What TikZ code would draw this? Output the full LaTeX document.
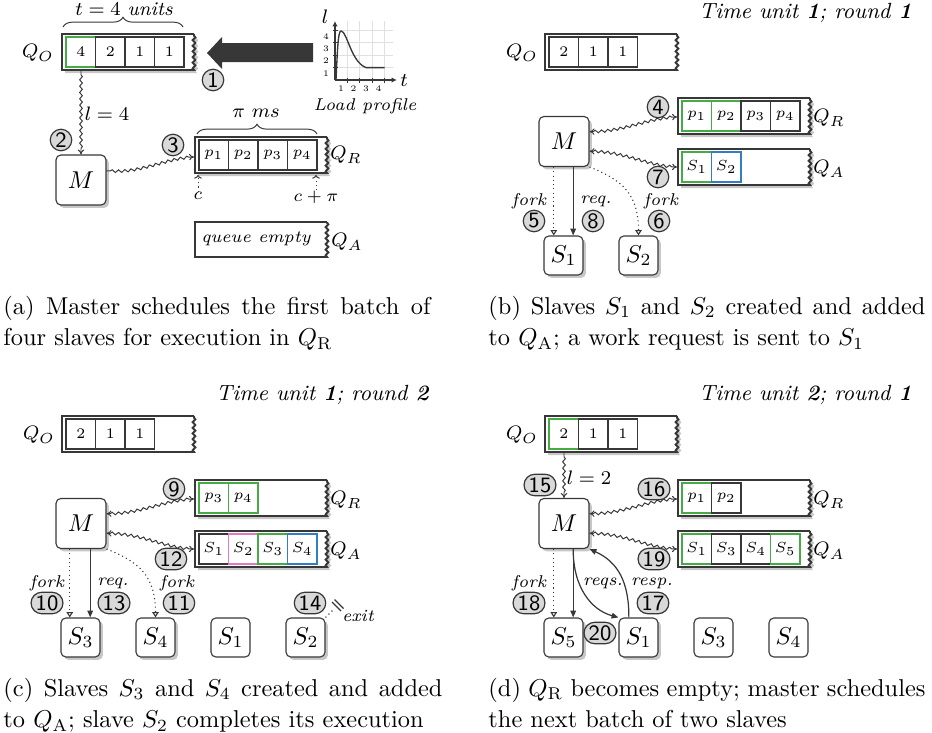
\documentclass[tikz,border=0pt]{standalone}
\usetikzlibrary{decorations.pathmorphing,decorations.pathreplacing,arrows.meta,shapes.misc,calc,shadows}
\definecolor{dk}{RGB}{55,55,55}
\definecolor{qg}{RGB}{70,170,70}
\definecolor{qb}{RGB}{50,125,195}
\definecolor{qp}{RGB}{225,120,195}
\newdimen\pxu
\pxu=0.41pt
\tikzset{
  qsn/.style={decoration={snake,amplitude=0.55pt,segment length=2.3pt}},
  wavy/.style={draw=dk,line width=0.4pt,>={To[length=2pt,width=2.6pt]},decorate,decoration={snake,amplitude=0.55pt,segment length=2.6pt,pre length=1.5pt,post length=1.5pt}},
  proc/.style={draw=dk,fill=white,line width=0.45pt,rounded corners=2pt,minimum size=20.5pt,inner sep=0pt},
  slave/.style={proc,minimum size=16pt},
  shad/.style={drop shadow={shadow xshift=1.2pt,shadow yshift=-1.2pt,fill=black!22,opacity=1}},
  cn/.style={circle,draw=dk,fill=black!15,line width=0.5pt,inner sep=0pt,minimum size=8.8pt,font=\small\sffamily},
  cn2/.style={rounded rectangle,draw=dk,fill=black!15,line width=0.5pt,inner sep=0.6pt,minimum height=8.8pt,minimum width=12.5pt,font=\small\sffamily},
  lb/.style={font=\scriptsize\itshape,inner sep=0pt},
  ql/.style={font=\footnotesize,inner sep=0pt},
  forkline/.style={draw=dk,line width=0.45pt,dash pattern=on 0.45pt off 1.3pt,-{Triangle[open,length=2.2pt,width=2.7pt]}},
  reqline/.style={draw=dk,line width=0.5pt,-{Triangle[length=2.8pt,width=2.3pt]}},
  ttl/.style={font=\small\itshape,anchor=base east,inner sep=0pt},
  captxt/.style={anchor=base west,inner sep=0pt,font=\normalsize},
  brc/.style={draw=dk,line width=0.4pt,decorate,decoration={brace,amplitude=4pt}},
  grd/.style={draw=black!12,line width=0.3pt},
}
\newcommand\qbox[4]{\filldraw[fill=white,draw=dk,line width=0.8pt] (#3,#2) -- (#1,#2) -- (#1,#4) -- (#3,#4) decorate[qsn]{-- (#3,#2)};}
\newcommand\qshad[4]{\fill[black!22,shift={(3,3)}] (#3,#2) -- (#1,#2) -- (#1,#4) -- (#3,#4) decorate[qsn]{-- (#3,#2)} -- cycle;}
\newcommand\qcell[4][dk]{\draw[draw=#1,line width=0.45pt] (#2,#3) rectangle ++(29.5,30); \node[font=\fontsize{6}{7}\selectfont,inner sep=0pt] at (#2+14.75,#3+15) {#4};}
\begin{document}
\begin{tikzpicture}[x=0.41pt,y=-0.41pt]
\useasboundingbox (0,0) rectangle (932,733);

% ================= (a)
\node[font=\footnotesize,inner sep=0pt] (ta) at (124,9) {$t=4$\ \textit{units}};
\draw[brc] (63,27) -- (183,27);
\qshad{62}{34}{194}{70}
\qbox{62}{34}{194}{70}
\qcell[qg]{66}{37}{4}\qcell{95.5}{37}{2}\qcell{125}{37}{1}\qcell{154.5}{37}{1}
\node[ql] (QOa) at (38,53) {$Q_O$};
\fill[dk] (313,43) -- (222,43) -- (222,37) -- (207,53) -- (222,69) -- (222,62) -- (313,62) -- cycle;
\node[cn] (c1) at (213,80) {1};
% load profile
\foreach \g in {347.4,359.8,372.2,384.6} \draw[grd] (\g,21) -- (\g,80);
\foreach \g in {67.6,55.2,42.8,30.4} \draw[grd] (335,\g) -- (393,\g);
\draw[dk,line width=0.6pt,-{Latex[length=2.2pt,width=2.2pt]}] (335,80) -- (335,21);
\draw[dk,line width=0.6pt,-{Latex[length=2.2pt,width=2.2pt]}] (335,80) -- (397,80);
\foreach \g in {347.4,359.8,372.2,384.6} \draw[dk,line width=0.5pt] (\g,77.5) -- (\g,82.5);
\foreach \g in {67.6,55.2,42.8,30.4} \draw[dk,line width=0.5pt] (332.5,\g) -- (337.5,\g);
\foreach \g/\t in {341/1,353.5/2,366/3,378.5/4} \node[font=\fontsize{3.5}{4}\selectfont,inner sep=0pt,name=xl\t] at (\g,89) {\t};
\foreach \g/\t in {73.5/1,61/2,48.5/3,36.5/4} \node[font=\fontsize{3.5}{4}\selectfont,inner sep=0pt,name=yl\t] at (326,\g) {\t};
\draw[dk,line width=0.55pt] (336,80) .. controls (337.5,50) and (338,31) .. (341,31) .. controls (347,31) and (351,62) .. (366,67.6) -- (384.6,67.6);
\node[ql] (la) at (325,17) {$l$};
\node[ql] (tla) at (404,80) {$t$};
\node[lb] (lp) at (365,106) {Load profile};
% master
\node[proc,shad] (Ma) at (81,180) {$M$};
\coordinate (qoa) at (81,71);
\draw[wavy,->] (qoa) -- (Ma.north);
\node[ql] (l4) at (107,114) {$l=4$};
\node[cn] (c2) at (61,140) {2};
\coordinate (qra) at (194,157);
\draw[wavy,->] (Ma.20) .. controls (140,174) and (165,157) .. (qra);
\node[cn] (c3) at (173,145) {3};
\node[ql] (pims) at (256,113) {$\pi\ ms$};
\draw[brc] (197,134) -- (317,134);
\qshad{195}{137}{327}{173}
\qbox{195}{137}{327}{173}
\qcell{199}{140}{$p_1$}\qcell{228.5}{140}{$p_2$}\qcell{258}{140}{$p_3$}\qcell{287.5}{140}{$p_4$}
\node[ql] (QRa) at (346,155) {$Q_R$};
\node[font=\scriptsize,inner sep=0pt] (ca) at (198,196) {$c$};
\coordinate (cta) at (198,175);
\draw[dk,line width=0.4pt,dash pattern=on 0.45pt off 1.3pt,-{To[length=1.5pt]}] (ca.north) -- (cta);
\node[font=\scriptsize,inner sep=0pt] (cpa) at (316,197) {$c+\pi$};
\coordinate (cpta) at (316,175);
\draw[dk,line width=0.4pt,dash pattern=on 0.45pt off 1.3pt,-{To[length=1.5pt]}] (cpa.north) -- (cpta);
\qbox{195}{222}{327}{257}
\node[font=\scriptsize\itshape,inner sep=0pt] (qe) at (256,239) {queue empty};
\node[ql] (QAa) at (347,242) {$Q_A$};
\node[captxt] (cpa1) at (3,314) {\makebox[427\pxu][s]{(a) Master schedules the first batch of}};
\node[captxt] (cpa2) at (3,345.5) {four slaves for execution in $Q_{\mathrm{R}}$};

% ================= (b)
\begin{scope}[shift={(483,0)}]
\node[ttl] (tb) at (429,18) {Time unit \textbf{1}; round \textbf{1}};
\qbox{62}{34}{194}{70}
\qcell{66}{37}{2}\qcell{95.5}{37}{1}\qcell{125}{37}{1}
\node[ql] (QOb) at (39,53) {$Q_O$};
\qshad{195}{98}{327}{134}\qbox{195}{98}{327}{134}
\qcell[qg]{199}{101}{$p_1$}\qcell[qg]{228.5}{101}{$p_2$}\qcell{258}{101}{$p_3$}\qcell{287.5}{101}{$p_4$}
\node[ql] (QRb) at (346,118) {$Q_R$};
\qshad{195}{149}{327}{185}\qbox{195}{149}{327}{185}
\qcell[qg]{199}{152}{$S_1$}\qcell[qb]{228.5}{152}{$S_2$}
\node[ql] (QAb) at (346,169) {$Q_A$};
\node[proc,shad] (Mb) at (81,141.5) {$M$};
\coordinate (qrb) at (194,117);
\coordinate (qab) at (194,167);
\draw[wavy,<->] (Mb.21) .. controls (140,132) and (165,117) .. (qrb);
\draw[wavy,<->] (Mb.-21) .. controls (140,151) and (165,167) .. (qab);
\node[cn] (c4) at (175,107) {4};
\node[cn] (c7) at (175,177) {7};
\node[slave,shad] (S1b) at (80.5,255.5) {$S_1$};
\node[slave,shad] (S2b) at (155.5,255.5) {$S_2$};
\draw[forkline] ($(Mb.south west)!0.3!(Mb.south east)$) coordinate (fb) -- (fb |- S1b.north);
\draw[reqline] ($(Mb.south west)!0.68!(Mb.south east)$) coordinate (rb) -- (rb |- S1b.north);
\draw[forkline] (Mb.south east) .. controls (140,180) and (155.5,195) .. (S2b.north);
\node[lb] (fk5) at (46,201) {fork};
\node[lb] (rq8) at (113,201) {req.};
\node[lb] (fk6) at (178,201) {fork};
\node[cn] (c5) at (51,221) {5};
\node[cn] (c8) at (110,221) {8};
\node[cn] (c6) at (176,221) {6};
\node[captxt] (cpb1) at (5,314) {\makebox[437\pxu][s]{(b) Slaves $S_1$ and $S_2$ created and added}};
\node[captxt] (cpb2) at (5,345.5) {to $Q_{\mathrm{A}}$; a work request is sent to $S_1$};
\end{scope}

% ================= (c)
\begin{scope}[shift={(0,382)}]
\node[ttl] (tc) at (429,18) {Time unit \textbf{1}; round \textbf{2}};
\qbox{62}{34}{194}{70}
\qcell{66}{37}{2}\qcell{95.5}{37}{1}\qcell{125}{37}{1}
\node[ql] (QOc) at (39,53) {$Q_O$};
\qshad{195}{98}{327}{134}\qbox{195}{98}{327}{134}
\qcell[qg]{199}{101}{$p_3$}\qcell[qg]{228.5}{101}{$p_4$}
\node[ql] (QRc) at (346,118) {$Q_R$};
\qshad{195}{149}{327}{185}\qbox{195}{149}{327}{185}
\qcell{199}{152}{$S_1$}\qcell[qp]{228.5}{152}{$S_2$}\qcell[qg]{258}{152}{$S_3$}\qcell[qb]{287.5}{152}{$S_4$}
\node[ql] (QAc) at (346,169) {$Q_A$};
\node[proc,shad] (Mc) at (81,141.5) {$M$};
\coordinate (qrc) at (194,117);
\coordinate (qac) at (194,167);
\draw[wavy,<->] (Mc.21) .. controls (140,132) and (165,117) .. (qrc);
\draw[wavy,<->] (Mc.-21) .. controls (140,151) and (165,167) .. (qac);
\node[cn] (c9) at (174,107) {9};
\node[cn2] (c12) at (171,177) {12};
\node[slave,shad] (S3c) at (80.5,255.5) {$S_3$};
\node[slave,shad] (S4c) at (155.5,255.5) {$S_4$};
\node[slave] (S1c) at (230.5,255.5) {$S_1$};
\node[slave,shad] (S2c) at (305.5,255.5) {$S_2$};
\draw[forkline] ($(Mc.south west)!0.28!(Mc.south east)$) coordinate (fc) -- (fc |- S3c.north);
\draw[reqline] ($(Mc.south west)!0.68!(Mc.south east)$) coordinate (rc) -- (rc |- S3c.north);
\draw[forkline] (Mc.south east) .. controls (140,180) and (155.5,195) .. (S4c.north);
\draw[dk,line width=0.45pt,dash pattern=on 0.45pt off 1.3pt] (S2c.north east) -- ++(7,-7) coordinate (exc);
\draw[dk,line width=0.45pt] (332,220) -- (341,229);
\draw[dk,line width=0.45pt] (334.5,217.5) -- (343.5,226.5);
\node[lb] (exit) at (358,234) {exit};
\node[lb] (fk10) at (47,201) {fork};
\node[lb] (rq13) at (113,201) {req.};
\node[lb] (fk11) at (177,201) {fork};
\node[cn2] (c10) at (47,221) {10};
\node[cn2] (c13) at (114,221) {13};
\node[cn2] (c11) at (179,221) {11};
\node[cn2] (c14) at (310,221) {14};
\node[captxt] (cpc1) at (3,314) {\makebox[439\pxu][s]{(c) Slaves $S_3$ and $S_4$ created and added}};
\node[captxt] (cpc2) at (3,345.5) {to $Q_{\mathrm{A}}$; slave $S_2$ completes its execution};
\end{scope}

% ================= (d)
\begin{scope}[shift={(483,382)}]
\node[ttl] (td) at (429,18) {Time unit \textbf{2}; round \textbf{1}};
\qshad{62}{34}{194}{70}
\qbox{62}{34}{194}{70}
\qcell[qg]{66}{37}{2}\qcell{95.5}{37}{1}\qcell{125}{37}{1}
\node[ql] (QOd) at (39,53) {$Q_O$};
\qshad{195}{98}{327}{134}\qbox{195}{98}{327}{134}
\qcell[qg]{199}{101}{$p_1$}\qcell{228.5}{101}{$p_2$}
\node[ql] (QRd) at (346,118) {$Q_R$};
\qshad{195}{149}{327}{185}\qbox{195}{149}{327}{185}
\qcell[qg]{199}{152}{$S_1$}\qcell{228.5}{152}{$S_3$}\qcell{258}{152}{$S_4$}\qcell[qg]{287.5}{152}{$S_5$}
\node[ql] (QAd) at (346,169) {$Q_A$};
\node[proc,shad] (Md) at (81,141.5) {$M$};
\coordinate (qod) at (81,71);
\draw[wavy,->] (qod) -- (Md.north);
\node[ql] (l2) at (106,96) {$l=2$};
\node[cn2] (c15) at (57,103) {15};
\coordinate (qrd) at (194,117);
\coordinate (qad) at (194,167);
\draw[wavy,<->] (Md.21) .. controls (140,132) and (165,117) .. (qrd);
\draw[wavy,<->] (Md.-21) .. controls (140,151) and (165,167) .. (qad);
\node[cn2] (c16) at (171,107) {16};
\node[cn2] (c19) at (171,177) {19};
\node[slave,shad] (S5d) at (80.5,255.5) {$S_5$};
\node[slave,shad] (S1d) at (155.5,255.5) {$S_1$};
\node[slave] (S3d) at (230.5,255.5) {$S_3$};
\node[slave] (S4d) at (305.5,255.5) {$S_4$};
\draw[forkline] ($(Md.south west)!0.3!(Md.south east)$) coordinate (fd) -- (fd |- S5d.north);
\draw[reqline] ($(Md.south west)!0.68!(Md.south east)$) coordinate (rd) -- (rd |- S5d.north);
\draw[reqline] (rd) .. controls (90,205) and (108,228) .. (S1d.north west);
\draw[reqline] ($(S1d.north west)!0.26!(S1d.north east)$) .. controls (146,200) and (135,180) .. (Md.south east);
\node[lb] (fk18) at (46,201) {fork};
\node[lb] (rq) at (120,201) {reqs.};
\node[lb] (rs) at (169,201) {resp.};
\node[cn2] (c18) at (46,221) {18};
\node[cn2] (c17) at (170,221) {17};
\node[cn2] (c20) at (117,251) {20};
\node[captxt] (cpd1) at (5,314) {\makebox[437\pxu][s]{(d) $Q_{\mathrm{R}}$ becomes empty; master schedules}};
\node[captxt] (cpd2) at (5,345.5) {the next batch of two slaves};
\end{scope}
\end{tikzpicture}
\end{document}
